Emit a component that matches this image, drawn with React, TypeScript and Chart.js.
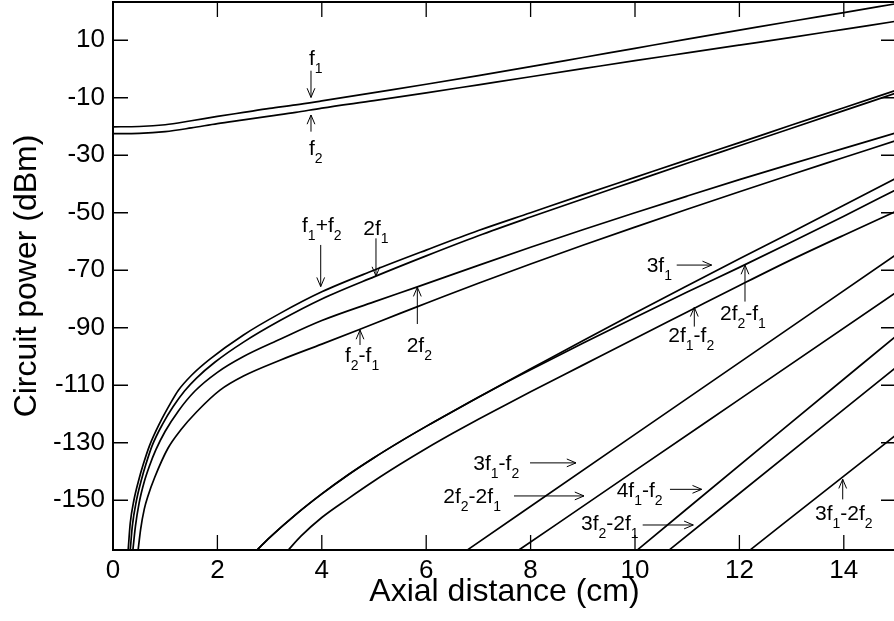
import React, { useEffect, useRef } from "react";
import { Chart, registerables } from "chart.js";

Chart.register(...registerables);

type Pt = [number, number];

const FONT = "'Liberation Sans', Arial, Helvetica, sans-serif";

const X_TICKS = [0, 2, 4, 6, 8, 10, 12, 14];
const Y_TICKS = [10, -10, -30, -50, -70, -90, -110, -130, -150];
const X_TITLE = "Axial distance (cm)";
const Y_TITLE = "Circuit power (dBm)";

// fundamentals
const F1: Pt[] = [[0,-20.1],[0.5,-20],[1,-19.4],[1.5,-18],[2,-16.5],[2.5,-15.1],[3,-13.7],[3.5,-12.5],[4,-11.1],[5,-8.2],[6,-5.3],[7,-2.3],[8,0.8],[9,4.0],[10,7.2],[11,10.4],[12,13.5],[13,16.6],[14,19.6],[15,22.7]];
const F2: Pt[] = [[0,-22.5],[0.5,-22.4],[1,-21.8],[1.5,-20.5],[2,-19],[2.5,-17.7],[3,-16.4],[3.5,-15.1],[4,-13.6],[5,-11],[6,-8.3],[7,-5.5],[8,-2.7],[9,0.1],[10,2.9],[11,5.6],[12,8.3],[13,11],[14,13.8],[15,16.6]];

// second order
const F1_PLUS_F2: Pt[] = [[0.29,-167.5],[0.33,-158],[0.4,-150],[0.5,-142.5],[0.58,-137.5],[0.7,-131],[0.9,-123],[1.1,-116.3],[1.25,-111.8],[1.5,-106.6],[1.85,-101],[2.5,-92.5],[3.2,-85],[4,-77.5],[5,-70],[6,-63],[7,-56.2],[8,-50],[9,-43.8],[10,-37.7],[11,-31.6],[12,-25.6],[13,-19.5],[14,-13.5],[15,-7.4]];
const TWO_F1: Pt[] = [[0.33,-167.5],[0.37,-159],[0.45,-150],[0.55,-142.5],[0.63,-137.5],[0.75,-131],[0.95,-123.5],[1.15,-117.5],[1.37,-112],[1.6,-107.5],[1.95,-102],[2.5,-95],[3.2,-87.5],[4,-80],[5,-72.3],[6,-65],[7,-58],[8,-51.5],[9,-45.2],[10,-39],[11,-32.8],[12,-26.7],[13,-20.6],[14,-14.5],[15,-8.4]];
const TWO_F2: Pt[] = [[0.38,-167.5],[0.43,-159],[0.5,-151],[0.6,-143.5],[0.7,-138],[0.82,-132.5],[1,-126],[1.25,-119],[1.57,-112],[2,-105.5],[2.5,-100],[3.2,-94],[4,-87.5],[5,-81],[5.83,-75.8],[7,-68.3],[8,-62],[9,-55.9],[10,-50],[11,-44.2],[12,-38.5],[13,-33],[14,-27.6],[15,-22.2]];
const F2_MINUS_F1: Pt[] = [[0.48,-167.5],[0.53,-160],[0.6,-153],[0.67,-148.5],[0.8,-142],[1.05,-132],[1.3,-125.5],[1.6,-119.3],[2.05,-111.7],[2.5,-106.8],[3.2,-101.3],[4,-95.7],[4.72,-90.6],[5.5,-85],[6,-81.5],[7,-74.5],[8,-67.8],[9,-61.3],[10,-55],[11,-48.8],[12,-42.7],[13,-36.7],[14,-30.8],[15,-24.9]];

// third order
const THREE_F1: Pt[] = [[2.75,-167.5],[3,-163],[3.5,-155],[4,-147.8],[4.5,-141.2],[5,-135.2],[5.5,-129.6],[6,-124.3],[6.5,-119.2],[7,-114.2],[7.5,-109.2],[8,-104.3],[9,-94.5],[10,-84.9],[11,-75.4],[12,-66],[13,-56.8],[14,-47.4],[15,-38]];
const TWO_F2_MINUS_F1: Pt[] = [[2.75,-167.5],[3,-163],[3.5,-155],[4,-147.8],[4.5,-141.2],[5,-135.2],[5.5,-129.6],[6,-124.3],[6.5,-119.2],[7,-114.2],[7.5,-109.3],[8,-104.6],[9,-95.4],[10,-86.4],[11,-77.6],[12,-69],[13,-60.2],[14,-51.2],[15,-42]];
const TWO_F1_MINUS_F2: Pt[] = [[3.35,-167.5],[3.6,-162.5],[4,-156],[4.5,-149.5],[5,-143.3],[5.5,-137.5],[6,-132],[6.5,-126.8],[7,-121.8],[7.5,-117],[8,-112.3],[9,-103],[10,-93.7],[11,-84.5],[12,-75.3],[13,-66.3],[14,-57.8],[15,-49.5]];

// higher order
const THREE_F1_MINUS_F2: Pt[] = [[6.77,-167.5],[10,-127.1],[15,-64.6]];
const TWO_F2_MINUS_2F1: Pt[] = [[7.76,-167.5],[10,-139.7],[12,-114.9],[15,-77.7]];
const FOUR_F1_MINUS_F2: Pt[] = [[10.03,-167.5],[12.81,-125.7],[15,-92.9]];
const THREE_F2_MINUS_2F1: Pt[] = [[10.64,-167.5],[13.5,-125.7],[15,-103.8]];
const THREE_F1_MINUS_2F2: Pt[] = [[12.19,-167.5],[14,-141.6],[15,-127.3]];

const SERIES: { name: string; data: Pt[] }[] = [
  { name: "f1", data: F1 },
  { name: "f2", data: F2 },
  { name: "f1+f2", data: F1_PLUS_F2 },
  { name: "2f1", data: TWO_F1 },
  { name: "2f2", data: TWO_F2 },
  { name: "f2-f1", data: F2_MINUS_F1 },
  { name: "3f1", data: THREE_F1 },
  { name: "2f2-f1", data: TWO_F2_MINUS_F1 },
  { name: "2f1-f2", data: TWO_F1_MINUS_F2 },
  { name: "3f1-f2", data: THREE_F1_MINUS_F2 },
  { name: "2f2-2f1", data: TWO_F2_MINUS_2F1 },
  { name: "4f1-f2", data: FOUR_F1_MINUS_F2 },
  { name: "3f2-2f1", data: THREE_F2_MINUS_2F1 },
  { name: "3f1-2f2", data: THREE_F1_MINUS_2F2 },
];

// annotation labels: text ("_" marks a subscript char), anchor in data coords, arrow [x1,y1,x2(tip),y2(tip)]
const LABELS: { text: string; x: number; y: number; arrow: number[] }[] = [
  { text: "f_1", x: 3.755, y: 1.4, arrow: [3.793, -0.6, 3.793, -9.9] },
  { text: "f_2", x: 3.755, y: -29.9, arrow: [3.793, -21.8, 3.793, -16.0] },
  { text: "f_1+f_2", x: 3.621, y: -56.6, arrow: [3.979, -61.2, 3.979, -75.7] },
  { text: "2f_1", x: 4.795, y: -57.7, arrow: [5.038, -58.9, 5.038, -72.0] },
  { text: "2f_2", x: 5.626, y: -98.3, arrow: [5.83, -88.7, 5.83, -75.9] },
  { text: "f_2-f_1", x: 4.444, y: -101.8, arrow: [4.732, -96.0, 4.732, -90.8] },
  { text: "3f_1", x: 10.224, y: -70.5, arrow: [10.799, -68.2, 11.469, -68.2] },
  { text: "2f_2-f_1", x: 11.628, y: -87.3, arrow: [12.107, -80.9, 12.107, -68.2] },
  { text: "2f_1-f_2", x: 10.638, y: -94.9, arrow: [11.136, -89.6, 11.136, -82.9] },
  { text: "3f_1-f_2", x: 6.902, y: -139.5, arrow: [7.989, -137.0, 8.87, -137.0] },
  { text: "2f_2-2f_1", x: 6.328, y: -151.1, arrow: [7.682, -148.5, 9.023, -148.5] },
  { text: "4f_1-f_2", x: 9.649, y: -148.8, arrow: [10.67, -146.2, 11.278, -146.2] },
  { text: "3f_2-2f_1", x: 8.966, y: -160.4, arrow: [10.147, -158.6, 11.117, -158.6] },
  { text: "3f_1-2f_2", x: 13.448, y: -156.9, arrow: [13.979, -149.7, 13.979, -142.7] },
];

function drawLabel(ctx: CanvasRenderingContext2D, text: string, x: number, y: number) {
  let cx = x;
  for (let i = 0; i < text.length; i++) {
    let ch = text[i];
    let sub = false;
    if (ch === "_") {
      sub = true;
      ch = text[++i];
    }
    ctx.font = sub ? `14px ${FONT}` : `21px ${FONT}`;
    ctx.fillText(ch, cx, sub ? y + 8 : y);
    cx += ctx.measureText(ch).width;
  }
}

function drawArrow(ctx: CanvasRenderingContext2D, x1: number, y1: number, x2: number, y2: number) {
  const ang = Math.atan2(y2 - y1, x2 - x1);
  const L = 10, A = 0.4;
  ctx.beginPath();
  ctx.moveTo(x1, y1);
  ctx.lineTo(x2, y2);
  ctx.moveTo(x2 - L * Math.cos(ang - A), y2 - L * Math.sin(ang - A));
  ctx.lineTo(x2, y2);
  ctx.lineTo(x2 - L * Math.cos(ang + A), y2 - L * Math.sin(ang + A));
  ctx.stroke();
}

const framePlugin = {
  id: "frameAndLabels",
  afterDatasetsDraw(chart: any) {
    const { ctx, chartArea: a, scales } = chart;
    const xs = scales.x, ys = scales.y;
    ctx.save();
    ctx.strokeStyle = "#000";
    ctx.fillStyle = "#000";
    ctx.lineWidth = 1.3;
    ctx.beginPath();
    for (const t of X_TICKS) {
      const px = xs.getPixelForValue(t);
      ctx.moveTo(px, a.bottom);
      ctx.lineTo(px, a.bottom - 15);
      ctx.moveTo(px, a.top);
      ctx.lineTo(px, a.top + 15);
    }
    for (const t of Y_TICKS) {
      const py = ys.getPixelForValue(t);
      ctx.moveTo(a.left, py);
      ctx.lineTo(a.left + 15, py);
      ctx.moveTo(a.right, py);
      ctx.lineTo(a.right - 15, py);
    }
    ctx.stroke();
    ctx.lineWidth = 2;
    ctx.strokeRect(a.left, a.top, a.right - a.left, a.bottom - a.top);

    ctx.textAlign = "left";
    ctx.textBaseline = "alphabetic";
    ctx.lineWidth = 1;
    for (const l of LABELS) {
      drawLabel(ctx, l.text, xs.getPixelForValue(l.x), ys.getPixelForValue(l.y));
      const [ax1, ay1, ax2, ay2] = l.arrow;
      drawArrow(ctx, xs.getPixelForValue(ax1), ys.getPixelForValue(ay1), xs.getPixelForValue(ax2), ys.getPixelForValue(ay2));
    }
    ctx.restore();
  },
};

export default function App() {
  const ref = useRef<HTMLCanvasElement>(null);
  useEffect(() => {
    if (!ref.current) return;
    const chart = new Chart(ref.current, {
      type: "line",
      data: {
        datasets: SERIES.map((s) => ({
          label: s.name,
          data: s.data.map(([x, y]) => ({ x, y })),
          borderColor: "#000",
          borderWidth: 1.7,
          pointRadius: 0,
          fill: false,
          cubicInterpolationMode: "monotone" as const,
        })),
      },
      options: {
        animation: false,
        responsive: false,
        devicePixelRatio: 1,
        layout: { padding: { top: 2, right: 2, left: 0, bottom: 0 } },
        plugins: { legend: { display: false }, tooltip: { enabled: false } },
        scales: {
          x: {
            type: "linear",
            min: 0,
            max: 15,
            afterFit: (s: any) => { s.height = 71; s.paddingLeft = 0; s.paddingRight = 0; },
            afterBuildTicks: (s: any) => { s.ticks = X_TICKS.map((v) => ({ value: v })); },
            grid: { display: false, drawTicks: false },
            border: { display: false },
            ticks: { color: "#000", font: { family: FONT, size: 26 }, padding: 5, maxRotation: 0, autoSkip: false },
            title: { display: true, text: X_TITLE, color: "#000", font: { family: FONT, size: 32 }, padding: { top: 0, bottom: 10 } },
          },
          y: {
            type: "linear",
            min: -167.3,
            max: 23.3,
            afterFit: (s: any) => { s.width = 113; s.paddingTop = 0; s.paddingBottom = 0; },
            afterBuildTicks: (s: any) => { s.ticks = Y_TICKS.map((v) => ({ value: v })); },
            grid: { display: false, drawTicks: false },
            border: { display: false },
            ticks: { color: "#000", font: { family: FONT, size: 26 }, padding: 8, autoSkip: false },
            title: { display: true, text: Y_TITLE, color: "#000", font: { family: FONT, size: 32 }, padding: { top: 8, bottom: 0 } },
          },
        },
      },
      plugins: [framePlugin],
    } as any);
    return () => chart.destroy();
  }, []);

  return (
    <div style={{ position: "fixed", left: 0, top: 0, width: 894, height: 621, overflow: "hidden", background: "#fff" }}>
      <canvas ref={ref} width={898} height={621} style={{ display: "block", width: 898, height: 621 }} />
    </div>
  );
}
